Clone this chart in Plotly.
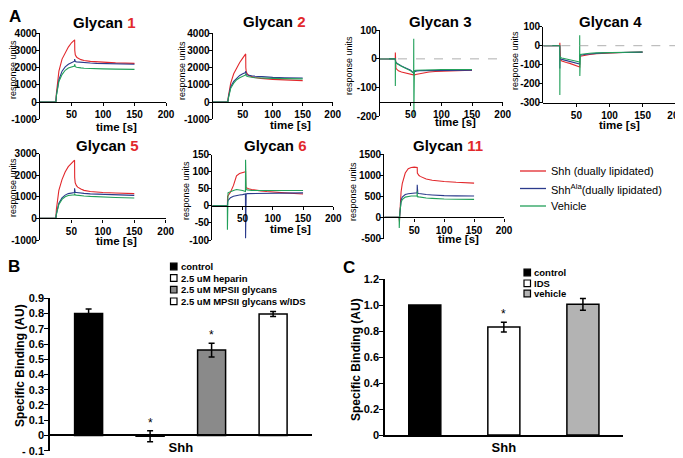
import plotly.graph_objects as go

W, H = 683, 458
OFF = 8  # page body margin of the html page
FW, FH = W, H
FONT = "Liberation Sans, Arial, sans-serif"
RED, BLUE, GREEN = "#e2282c", "#2b3b8c", "#22a05a"

# ---------------- Panel A data (sensorgrams) ----------------
time_s = [0, 24.9, 25, 25.2, 26, 28, 30, 35, 40, 45, 50, 54.8, 55, 55.2, 56, 58,
          60, 65, 70, 80, 90, 100, 120, 150]

series_names = ["Shh (dually lipidated)", "Shh<sup>Ala</sup>(dually lipidated)", "Vehicle"]
series_colors = [RED, BLUE, GREEN]

g1_shh = [0, 0, 0, 0, 500, 1300, 1800, 2500, 2900, 3200, 3450, 3620, 3620, 3000, 2750, 2620,
          2560, 2470, 2420, 2370, 2340, 2310, 2280, 2250]
g1_ala = [0, 0, 0, 0, 400, 1000, 1300, 1800, 2050, 2200, 2300, 2380, 2500, 2380, 2360, 2340,
          2330, 2310, 2290, 2270, 2250, 2240, 2220, 2200]
g1_veh = [0, 0, 0, 0, 350, 900, 1200, 1600, 1850, 1980, 2050, 2100, 2200, 2100, 2060, 2030,
          2010, 1990, 1970, 1950, 1940, 1930, 1920, 1900]

g2_shh = [0, 0, 0, 0, 300, 800, 1100, 1650, 2000, 2300, 2560, 2800, 2800, 2000, 1750, 1620,
          1560, 1480, 1430, 1380, 1340, 1320, 1290, 1250]
g2_ala = [0, 0, 0, 0, 250, 650, 900, 1200, 1400, 1550, 1650, 1720, 1800, 1700, 1620, 1580,
          1560, 1530, 1510, 1480, 1460, 1440, 1420, 1400]
g2_veh = [0, 0, 0, 0, 200, 600, 800, 1100, 1300, 1420, 1520, 1580, 1650, 1580, 1520, 1490,
          1470, 1440, 1420, 1400, 1390, 1380, 1365, 1350]

g3_shh = [0, 0, 22, -20, -33, -38, -42, -46, -49, -52, -55, -58, -58, -58, -57, -55,
          -54, -51, -49, -46, -44, -43, -41, -40]
g3_ala = [0, 0, -5, -8, -12, -16, -19, -25, -30, -35, -40, -50, -55, -50, -45, -43,
          -42, -41, -41, -40, -40, -40, -40, -40]
g3_veh = [0, 0, -95, -10, -13, -17, -20, -26, -31, -36, -42, -50, 70, -200, -42, -40,
          -40, -39, -38, -38, -38, -37, -37, -37]

g4_shh = [0, 0, 15, -40, -75, -80, -83, -88, -93, -99, -105, -112, -112, -60, -56, -54,
          -52, -49, -46, -42, -40, -38, -36, -34]
g4_ala = [0, 0, -120, -60, -68, -72, -74, -78, -82, -86, -90, -96, -96, -50, -50, -49,
          -48, -45, -43, -40, -38, -37, -35, -34]
g4_veh = [0, 0, -260, -55, -62, -65, -67, -71, -75, -78, -82, -86, 55, -160, -46, -45,
          -44, -42, -40, -38, -37, -36, -35, -33]

g5_shh = [0, 0, 0, 0, 400, 1000, 1300, 1800, 2150, 2400, 2560, 2700, 2700, 1900, 1650, 1520,
          1450, 1360, 1300, 1250, 1220, 1200, 1180, 1150]
g5_ala = [0, 0, 0, 0, 200, 550, 700, 950, 1080, 1150, 1180, 1200, 1400, 1200, 1200, 1200,
          1190, 1170, 1160, 1140, 1130, 1110, 1090, 1070]
g5_veh = [0, 0, 0, 0, 180, 500, 650, 880, 1000, 1060, 1090, 1100, 1150, 1100, 1090, 1080,
          1070, 1050, 1040, 1020, 1000, 990, 970, 950]

g6_shh = [0, 0, 0, 28, 30, 33, 40, 60, 88, 95, 98, 100, 100, 55, 53, 52,
          50, 48, 46, 44, 42, 40, 38, 35]
g6_ala = [0, 0, 0, 10, 16, 20, 24, 28, 31, 32, 33, 35, -95, 35, 35, 36,
          36, 37, 37, 38, 38, 38, 38, 38]
g6_veh = [0, 0, -70, 35, 38, 40, 42, 45, 48, 47, 45, 42, 135, 45, 48, 47,
          46, 45, 45, 45, 45, 45, 45, 45]

g11_shh = [0, 0, 0, -100, 200, 600, 800, 1050, 1150, 1180, 1190, 1180, 1180, 1050, 1020, 990,
           970, 930, 910, 880, 860, 850, 830, 810]
g11_ala = [0, 0, 0, -50, 150, 400, 480, 540, 560, 570, 575, 580, 770, 570, 570, 565,
           560, 550, 540, 530, 520, 515, 510, 505]
g11_veh = [0, 0, -250, 0, 120, 350, 420, 480, 500, 505, 505, 505, 620, 480, 490, 485,
           480, 470, 460, 450, 440, 435, 430, 425]

glycan_labels = ["1", "2", "3", "4", "5", "6", "11"]
glycan_number_red = [True, True, False, False, True, True, True]
glycan_series = [
    (g1_shh, g1_ala, g1_veh), (g2_shh, g2_ala, g2_veh), (g3_shh, g3_ala, g3_veh),
    (g4_shh, g4_ala, g4_veh), (g5_shh, g5_ala, g5_veh), (g6_shh, g6_ala, g6_veh),
    (g11_shh, g11_ala, g11_veh),
]
y_ranges = [[-1000, 4000], [-1000, 4000], [-200, 100], [-300, 100],
            [-1000, 3000], [-100, 150], [-500, 1500]]
y_ticks = [[-1000, 0, 1000, 2000, 3000, 4000], [-1000, 0, 1000, 2000, 3000, 4000],
           [-200, -100, 0, 100], [-300, -200, -100, 0, 100],
           [-1000, 0, 1000, 2000, 3000], [-100, -50, 0, 50, 100, 150],
           [-500, 0, 500, 1000, 1500]]
x_crossing = [0, 0, -150, -300, 0, 0, 0]
x_ticks = [50, 100, 150, 200]

# ---------------- Panel B / C data ----------------
b_groups = ["control", "2.5 uM heparin", "2.5 uM MPSII glycans", "2.5 uM MPSII glycans w/IDS"]
b_values = [0.80, -0.005, 0.56, 0.797]
b_errors = [0.03, 0.036, 0.045, 0.017]
b_signif = [False, True, True, False]
b_category = ["Shh"]

c_groups = ["control", "IDS", "vehicle"]
c_values = [1.0, 0.83, 1.005]
c_errors = [0.0, 0.038, 0.045]
c_signif = [False, True, False]

b_ticks = [-0.1, 0, 0.1, 0.2, 0.3, 0.4, 0.5, 0.6, 0.7, 0.8, 0.9]
b_ticktext = ["- 0.1", "0", "0.1", "0.2", "0.3", "0.4", "0.5", "0.6", "0.7", "0.8", "0.9"]
c_ticks = [0, 0.2, 0.4, 0.6, 0.8, 1.0, 1.2]
c_ticktext = ["0", "0.2", "0.4", "0.6", "0.8", "1.0", "1.2"]


# ---------------- geometry (page pixels) ----------------
def fx(x):
    return (x - OFF) / FW


def fy(y):
    return 1 - (y - OFF) / FH


# left, right, top, bottom of each sensorgram plot (pixels)
boxes = [(40, 166, 33.3, 119.3), (212.7, 332.7, 33.3, 119.3), (380, 502.7, 30.3, 116),
         (543.3, 675.7, 26.7, 102.7), (40, 165.7, 153.7, 240), (212.3, 333.3, 154.7, 240),
         (384.3, 504, 154, 238.5)]
title_pos = [(104, 22.7), (274, 21.7), (440.5, 21.7), (610, 21.7),
             (107.8, 145), (275, 145), (447.8, 145)]
ylab_pos = [(13, 70), (182, 71), (349, 66), (515, 61), (13, 188), (186, 191), (353, 192)]
xlab_pos = [(116.7, 126.5), (290, 125), (455, 122), (619.3, 124.5),
            (116.7, 240.5), (290, 229), (458.3, 239)]

fig = go.Figure()
layout = dict(width=FW, height=FH, margin=dict(l=0, r=0, t=0, b=0), autosize=False,
              template="none", paper_bgcolor="white", plot_bgcolor="white",
              showlegend=False, font=dict(family=FONT, color="black"),
              barmode="group", bargap=0.06)
annotations = []
shapes = []


def note(text, x, y, size, bold=False, xanchor="center", angle=0, **kw):
    d = dict(text=text, x=fx(x), y=fy(y), xref="paper", yref="paper", showarrow=False,
             xanchor=xanchor, yanchor="middle", textangle=angle,
             font=dict(size=size, weight="bold" if bold else "normal"))
    d.update(kw)
    annotations.append(d)


axis_common = dict(showgrid=False, zeroline=False, showline=True, linecolor="black",
                   linewidth=1.3, ticks="outside", ticklen=3, tickwidth=1.2,
                   tickcolor="black", ticklabeloverflow="allow")

for i in range(7):
    n = "" if i == 0 else str(i + 1)
    l, r, t, b = boxes[i]
    yr = y_ranges[i]
    cross_px = t + (yr[1] - x_crossing[i]) / (yr[1] - yr[0]) * (b - t)
    layout["xaxis" + n] = dict(axis_common, domain=[fx(l), fx(r)], range=[0, 200],
                               anchor="free", position=fy(cross_px),
                               tickvals=x_ticks,
                               tickfont=dict(size=10, weight="bold", family=FONT))
    layout["yaxis" + n] = dict(axis_common, domain=[fy(b), fy(t)], range=yr,
                               anchor="x" + n, tickvals=y_ticks[i],
                               ticktext=[str(v) for v in y_ticks[i]],
                               ticklabelstandoff=-3,
                               tickfont=dict(size=10, weight="bold", family=FONT))
    for s, col in zip(glycan_series[i], series_colors):
        fig.add_trace(go.Scatter(x=time_s, y=s, mode="lines", xaxis="x" + n, yaxis="y" + n,
                                 line=dict(color=col, width=1.1), hoverinfo="skip"))
    if x_crossing[i] != 0:
        shapes.append(dict(type="line", xref="x" + n, yref="y" + n, x0=0, x1=200, y0=0, y1=0,
                           line=dict(color="#9a9a9a", width=0.8, dash="dash")))
    num = glycan_labels[i]
    if glycan_number_red[i]:
        num = "<span style='color:%s'>%s</span>" % (RED, num)
    note("Glycan " + num, title_pos[i][0], title_pos[i][1], 15, bold=True)
    note("response units", ylab_pos[i][0], ylab_pos[i][1], 9, angle=-90)
    note("time [s]", xlab_pos[i][0], xlab_pos[i][1], 11.5, bold=True)

# legend for panel A
legA_y = [171, 188.5, 206]
for name, col, yy in zip(series_names, series_colors, legA_y):
    shapes.append(dict(type="line", xref="paper", yref="paper", x0=fx(520), x1=fx(546),
                       y0=fy(yy), y1=fy(yy), line=dict(color=col, width=1.3)))
    note(name, 549, yy, 11, xanchor="left")

# ---------------- Panel B ----------------
b_colors = ["black", "white", "#8a8a8a", "white"]
for g, v, e, c in zip(b_groups, b_values, b_errors, b_colors):
    fig.add_trace(go.Bar(x=b_category, y=[v], name=g, xaxis="x8", yaxis="y8", width=0.107,
                         marker=dict(color=c, line=dict(color="black", width=1.5)),
                         error_y=dict(type="data", array=[e], color="black", thickness=1.5,
                                      width=3)))
layout["xaxis8"] = dict(showgrid=False, zeroline=False, showline=True, linecolor="black",
                        linewidth=1.5, type="category", range=[-0.5, 0.5],
                        domain=[fx(50), fx(311.7)], anchor="free", position=fy(435.3),
                        ticks="", ticklabeloverflow="allow",
                        tickfont=dict(size=13, weight="bold", family=FONT))
layout["yaxis8"] = dict(axis_common, domain=[fy(450.7), fy(298.3)], range=[-0.1, 0.9],
                        anchor="x8", tickvals=b_ticks, ticktext=b_ticktext, ticklen=4,
                        ticklabelstandoff=-2,
                        linewidth=1.5, tickfont=dict(size=11, weight="bold", family=FONT))
slot_b = (1 - 0.06) / len(b_groups)
for k, (v, e, s) in enumerate(zip(b_values, b_errors, b_signif)):
    if s:
        annotations.append(dict(text="*", xref="x8", yref="y8",
                                x=-(1 - 0.06) / 2 + slot_b * (k + 0.5), y=v + e,
                                xanchor="center", yanchor="middle",
                                yshift=8, showarrow=False, font=dict(size=12)))
legB_y = [266.5, 278, 289.7, 301.3]
for g, c, yy in zip(b_groups, b_colors, legB_y):
    shapes.append(dict(type="rect", xref="paper", yref="paper", x0=fx(170.5), x1=fx(177),
                       y0=fy(yy + 3.3), y1=fy(yy - 3.3), fillcolor=c,
                       line=dict(color="black", width=1.2)))
    note(g, 179, yy, 9.5, bold=True, xanchor="left")
note("Specific Binding (AU)", 20, 366, 12, bold=True, angle=-90)

# ---------------- Panel C ----------------
c_colors = ["black", "white", "#b3b3b3"]
for g, v, e, c in zip(c_groups, c_values, c_errors, c_colors):
    fig.add_trace(go.Bar(x=b_category, y=[v], name=g, xaxis="x9", yaxis="y9", width=0.127,
                         marker=dict(color=c, line=dict(color="black", width=1.5)),
                         error_y=dict(type="data", array=[e], color="black", thickness=1.5,
                                      width=3, visible=e > 0)))
layout["xaxis9"] = dict(showgrid=False, zeroline=False, showline=True, linecolor="black",
                        linewidth=1.5, type="category", range=[-0.471, 0.471],
                        domain=[fx(385), fx(622.7)], anchor="y9",
                        ticks="", ticklabeloverflow="allow",
                        tickfont=dict(size=13, weight="bold", family=FONT))
layout["yaxis9"] = dict(axis_common, domain=[fy(435), fy(279)], range=[0, 1.2],
                        anchor="x9", tickvals=c_ticks, ticktext=c_ticktext, ticklen=4,
                        ticklabelstandoff=-2,
                        linewidth=1.5, tickfont=dict(size=11, weight="bold", family=FONT))
slot_c = (1 - 0.06) / len(c_groups)
for k, (v, e, s) in enumerate(zip(c_values, c_errors, c_signif)):
    if s:
        annotations.append(dict(text="*", xref="x9", yref="y9",
                                x=-(1 - 0.06) / 2 + slot_c * (k + 0.5), y=v + e,
                                xanchor="center", yanchor="middle",
                                yshift=8, showarrow=False, font=dict(size=12)))
legC_y = [272.5, 283.3, 293.5]
for g, c, yy in zip(c_groups, c_colors, legC_y):
    shapes.append(dict(type="rect", xref="paper", yref="paper", x0=fx(524), x1=fx(530.5),
                       y0=fy(yy + 3.3), y1=fy(yy - 3.3), fillcolor=c,
                       line=dict(color="black", width=1.2)))
    note(g, 532, yy, 9.5, bold=True, xanchor="left")
note("Specific Binding (AU)", 356, 360, 12, bold=True, angle=-90)

# panel letters
for letter, (lx, ly) in zip(["A", "B", "C"], [(15, 16), (14, 266), (349, 267)]):
    note(letter, lx, ly, 17, bold=True)

layout["annotations"] = annotations
layout["shapes"] = shapes
fig.update_layout(**layout)
fig.write_html("out.html")
